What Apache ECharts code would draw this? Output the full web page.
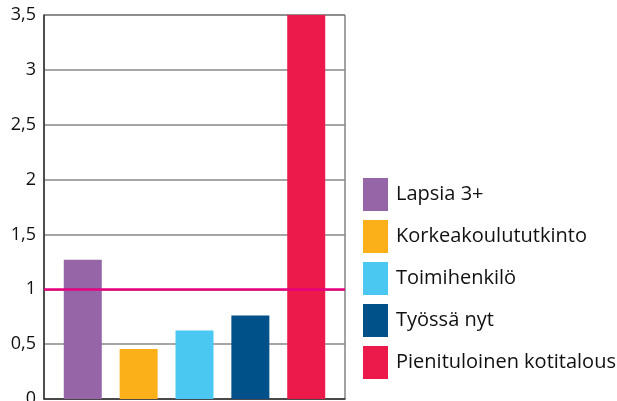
<!DOCTYPE html>
<html>
<head>
<meta charset="utf-8">
<script src="https://cdn.jsdelivr.net/npm/echarts@6/dist/echarts.min.js"></script>
<style>html,body{margin:0;padding:0;background:#fff}#c{width:617px;height:401px}</style>
</head>
<body>
<div id="c"></div>
<script>
var seriesNames = ['Lapsia 3+', 'Korkeakoulututkinto', 'Toimihenkilö', 'Työssä nyt', 'Pienituloinen kotitalous'];
var seriesValues = [1.27, 0.455, 0.625, 0.76, 3.5];
var seriesColors = ['#9565A8', '#FBB01A', '#4BC8F2', '#005089', '#EC1A4A'];
var referenceValue = 1;
var yTicks = [0, 0.5, 1, 1.5, 2, 2.5, 3, 3.5];

var FONT = 'Open Sans';
var chart = echarts.init(document.getElementById('c'));
var series = seriesNames.map(function (n, i) {
  var s = {
    name: n, type: 'bar', data: [seriesValues[i]],
    barWidth: 38, barGap: '47%',
    itemStyle: { color: seriesColors[i] },
    emphasis: { disabled: true }
  };
  if (i === seriesNames.length - 1) {
    s.markLine = {
      silent: true, symbol: 'none', z: 10,
      label: { show: false },
      lineStyle: { color: '#E5007E', width: 2.5, type: 'solid' },
      data: [{ yAxis: referenceValue }]
    };
  }
  return s;
});
chart.setOption({
  animation: false,
  grid: { left: 44, right: 272, top: 15, bottom: 2, outerBoundsMode: 'none', containLabel: false, show: true, borderColor: '#444', borderWidth: 1, backgroundColor: 'transparent' },
  legend: {
    orient: 'vertical', left: 363, top: 178, padding: 0,
    itemWidth: 25, itemHeight: 33, itemGap: 9,
    icon: 'rect',
    textStyle: { fontFamily: FONT, fontSize: 20, color: '#111', padding: [0, 0, 0, 3] },
    data: seriesNames
  },
  xAxis: {
    type: 'category', data: [''],
    axisLine: { lineStyle: { color: '#333', width: 1.5 } },
    axisTick: { show: false }, axisLabel: { show: false }
  },
  yAxis: {
    type: 'value', min: yTicks[0], max: yTicks[yTicks.length - 1], interval: 0.5,
    axisLine: { show: true, lineStyle: { color: '#333', width: 1.5 } },
    axisTick: { show: false },
    splitLine: { lineStyle: { color: '#888', width: 1.5 } },
    axisLabel: {
      margin: 8, fontFamily: FONT, fontSize: 18, color: '#111',
      formatter: function (v) { return String(v).replace('.', ','); }
    }
  },
  series: series
});
</script>
</body>
</html>
